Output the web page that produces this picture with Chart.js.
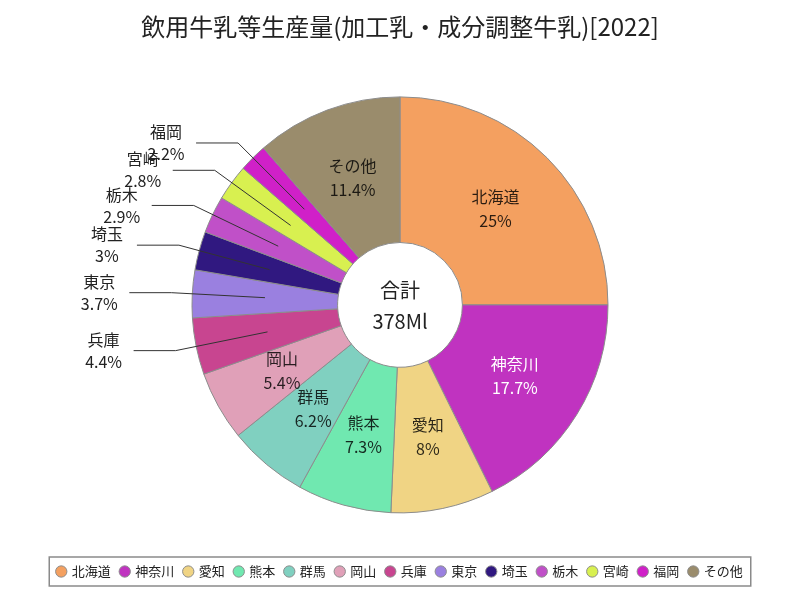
<!DOCTYPE html>
<html><head><meta charset="utf-8">
<script src="https://cdn.jsdelivr.net/npm/chart.js@4/dist/chart.umd.min.js"></script>
<style>html,body{margin:0;padding:0;background:#fff}#wrap{width:800px;height:600px;position:relative}</style>
</head><body><div id="wrap"><canvas id="c"></canvas></div>
<script>
const categories = ['北海道','神奈川','愛知','熊本','群馬','岡山','兵庫','東京','埼玉','栃木','宮崎','福岡','その他'];
const shares = [25, 17.7, 8, 7.3, 6.2, 5.4, 4.4, 3.7, 3, 2.9, 2.8, 2.2, 11.4];
const colors = ['#F4A060','#C033C0','#F0D484','#70E8B0','#80D0C0','#E0A0B8','#C84590','#9A80E0','#301880','#C050C8','#D8F050','#D020C8','#9A8C6C'];
const outsideCats = ['兵庫','東京','埼玉','栃木','宮崎','福岡'];
const centerLines = ['合計','378Ml'];
const titleText = '飲用牛乳等生産量(加工乳・成分調整牛乳)[2022]';
const FONT = '"Noto Sans CJK JP", "Noto Sans", sans-serif';

function fmt(v){ return (Math.round(v*10)/10).toString(); }

const labelPlugin = {
  id: 'sliceLabels',
  afterDatasetsDraw(chart){
    const ctx = chart.ctx;
    const meta = chart.getDatasetMeta(0);
    meta.data.forEach((arc, i) => {
      const p = arc.getProps(['x','y','startAngle','endAngle','innerRadius','outerRadius'], true);
      const mid = (p.startAngle + p.endAngle) / 2;
      const c = Math.cos(mid), s = Math.sin(mid);
      const rm = (p.innerRadius + p.outerRadius) / 2;
      const name = categories[i];
      const val = fmt(shares[i]) + '%';
      ctx.save();
      ctx.font = '16px ' + FONT;
      ctx.textAlign = 'center';
      ctx.textBaseline = 'middle';
      if (outsideCats.indexOf(name) < 0) {
        const px = p.x + c*rm, py = p.y + s*rm;
        ctx.fillStyle = name === '神奈川' ? '#ffffff' : 'rgba(0,0,0,0.82)';
        ctx.fillText(name, px, py - 12);
        ctx.fillText(val, px, py + 12);
      } else {
        const x0 = p.x + c*rm, y0 = p.y + s*rm;
        const rk = p.outerRadius + 21;
        const x1 = p.x + c*rk, y1 = p.y + s*rk;
        const x2 = x1 - 42;
        ctx.strokeStyle = '#333';
        ctx.lineWidth = 1;
        ctx.beginPath();
        ctx.moveTo(x0, y0); ctx.lineTo(x1, y1); ctx.lineTo(x2, y1);
        ctx.stroke();
        ctx.fillStyle = '#222';
        ctx.fillText(name, x2 - 30, y1 - 11);
        ctx.fillText(val, x2 - 30, y1 + 11);
      }
      ctx.restore();
    });
    const a0 = meta.data[0];
    ctx.save();
    ctx.font = '20px ' + FONT;
    ctx.textAlign = 'center';
    ctx.textBaseline = 'middle';
    ctx.fillStyle = '#222';
    ctx.fillText(centerLines[0], a0.x, a0.y - 14);
    ctx.fillText(centerLines[1], a0.x, a0.y + 17);
    ctx.restore();
  },
  afterDraw(chart){
    const lg = chart.legend;
    if (!lg || !lg.legendHitBoxes || !lg.legendHitBoxes.length) return;
    let l = Infinity, r = -Infinity, t = Infinity, b = -Infinity;
    lg.legendHitBoxes.forEach(h => { l = Math.min(l, h.left); r = Math.max(r, h.left + h.width); t = Math.min(t, h.top); b = Math.max(b, h.top + h.height); });
    const ctx = chart.ctx;
    ctx.save();
    ctx.strokeStyle = '#8a8a8a';
    ctx.lineWidth = 1.5;
    ctx.strokeRect(l - 8, t - 8, (r - l) + 16, (b - t) + 16);
    ctx.restore();
  }
};

new Chart(document.getElementById('c'), {
  type: 'doughnut',
  data: {
    labels: categories,
    datasets: [{
      data: shares,
      backgroundColor: colors,
      borderColor: '#8c8c8c',
      borderWidth: 1,
      radius: 208
    }]
  },
  options: {
    responsive: true,
    maintainAspectRatio: false,
    animation: false,
    cutout: '30%',
    layout: { padding: { top: 0, bottom: 12, left: 0, right: 0 } },
    plugins: {
      title: {
        display: true,
        text: titleText,
        color: '#222',
        font: { family: FONT, size: 24, weight: 'normal' },
        padding: { top: 12, bottom: 14 }
      },
      legend: {
        position: 'bottom',
        labels: {
          usePointStyle: true,
          pointStyle: 'circle',
          boxWidth: 8,
          boxHeight: 8,
          padding: 10,
          color: '#222',
          font: { family: FONT, size: 13 }
        }
      },
      tooltip: { enabled: false }
    }
  },
  plugins: [labelPlugin]
});
</script>
</body></html>
